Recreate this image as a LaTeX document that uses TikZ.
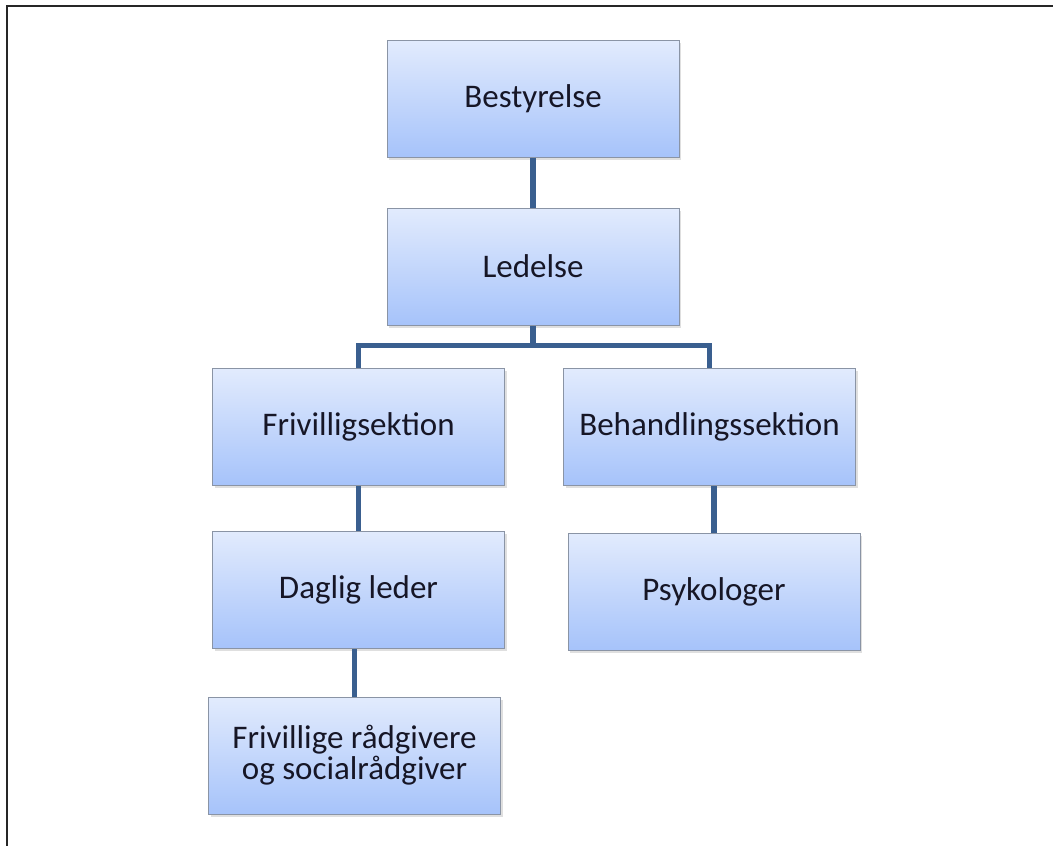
\documentclass[tikz,border=0pt]{standalone}
\usepackage{fontspec}
\setmainfont{Carlito}
\usetikzlibrary{positioning,shadows}
\definecolor{linkblue}{RGB}{58,95,143}
\definecolor{boxtop}{RGB}{226,235,253}
\definecolor{boxbottom}{RGB}{166,195,250}
\definecolor{boxedge}{RGB}{138,148,165}
\definecolor{boxtext}{RGB}{22,22,38}
\begin{document}
\begin{tikzpicture}[
x=0.5pt, y=-0.5pt,
orgbox/.style={rectangle, draw=boxedge, line width=0.5pt, top color=boxtop, bottom color=boxbottom, minimum width=146pt, minimum height=58.5pt, align=center, text=boxtext, font=\fontsize{16.5}{15.5}\selectfont, drop shadow={opacity=0.25, shadow xshift=1pt, shadow yshift=-1.5pt}},
link/.style={draw=linkblue, line width=2.6pt},
frame/.style={draw=black!85, line width=1pt},
]
\useasboundingbox (0,0) rectangle (1053,846);
\draw[frame] (1053,6) -- (7,6) -- (7,846);
\node[orgbox] (best) at (533,98.5) {Bestyrelse};
\node[orgbox, below=25pt of best] (led) {Ledelse};
\node[orgbox, below left=21pt and 14pt of led.south] (friv) {Frivilligsektion};
\node[orgbox, below right=21pt and 15pt of led.south] (beh) {Behandlingssektion};
\node[orgbox, below=22.5pt of friv] (daglig) {Daglig leder};
\node[orgbox, below=23.5pt of beh, xshift=2.25pt] (psyk) {Psykologer};
\node[orgbox, below=24pt of daglig, xshift=-2pt] (raad) {Frivillige rådgivere\\og socialrådgiver};
\draw[link] (best) -- (led);
\draw[link] (led.south) -- ++(0,20) coordinate (split);
\draw[link] (friv.north) |- (split) -| (beh.north);
\draw[link] (friv) -- (daglig);
\draw[link] (raad.north) -- (raad.north |- daglig.south);
\draw[link] (psyk.north) -- (psyk.north |- beh.south);
\end{tikzpicture}
\end{document}
